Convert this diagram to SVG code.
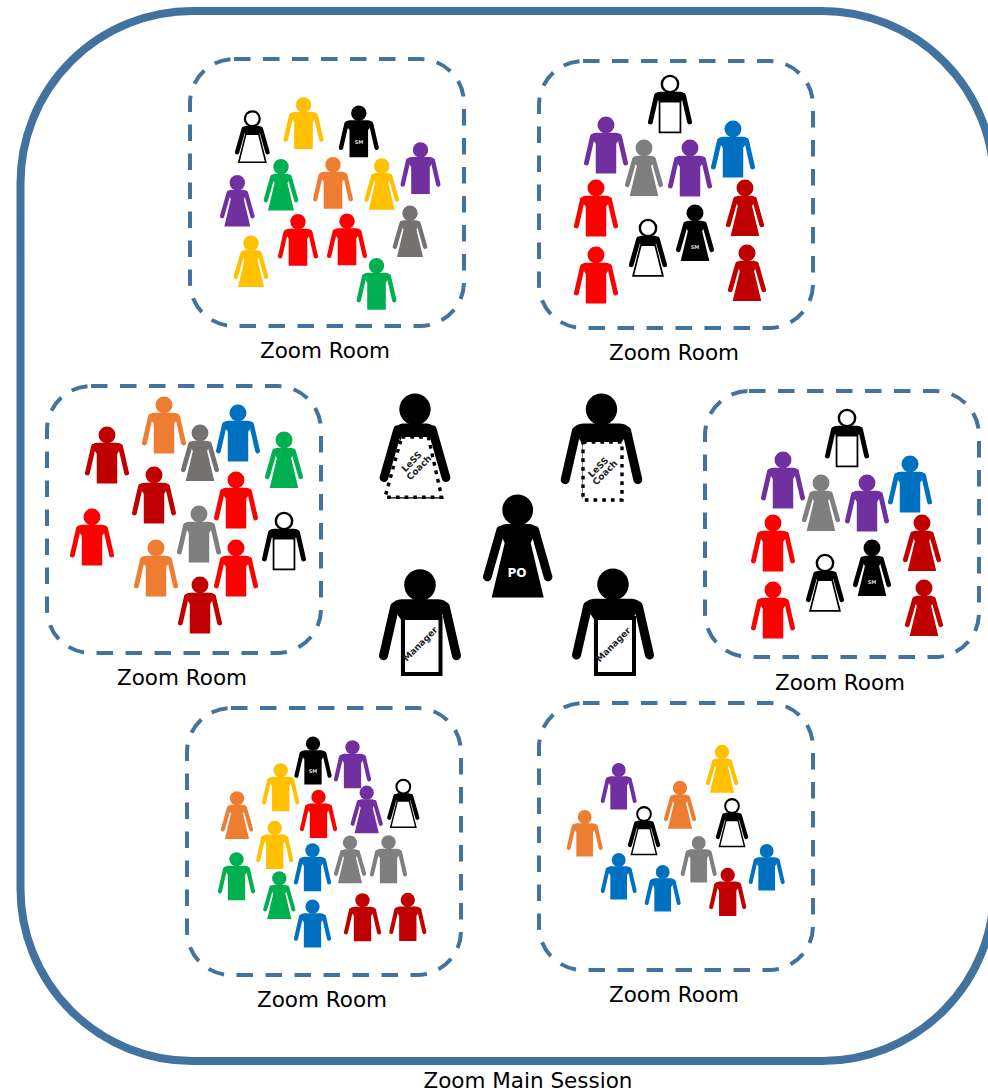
<svg xmlns="http://www.w3.org/2000/svg" width="988" height="1091" viewBox="0 0 988 1091">
<style>
text{font-family:"DejaVu Sans","Liberation Sans",sans-serif;fill:#000}
.lbl{font-size:21.5px;text-anchor:middle}
.room{fill:none;stroke:#43729f;stroke-width:4;stroke-dasharray:16.5 12.5}
.small{font-size:5px;font-weight:bold;fill:#ddd;text-anchor:middle}
.tag{font-size:9px;font-weight:bold;text-anchor:middle;fill:#222}
.dot{fill:#fff;stroke:#000;stroke-width:3.4;stroke-dasharray:3.7 5}
.box{fill:#fff;stroke:#000;stroke-width:4}
.r{color:#ff0000}.d{color:#c00000}.o{color:#ed7d31}.y{color:#ffc000}.g{color:#00b050}.b{color:#0070c0}.p{color:#7030a0}.a{color:#7f7f7f}.n{color:#767171}.k{color:#000}
</style>
<defs>
<g id="man"><circle r="7.7" fill="currentColor"/><path d="M-9,7H9Q12.500,7 14,10L9.300,17V44H-9.300V17L-14,10Q-12.500,7 -9,7Z" fill="currentColor"/><path d="M-12.300,10.500L-17.800,34.500M12.300,10.500L17.800,34.500" stroke="currentColor" stroke-width="4.400" stroke-linecap="round" fill="none"/></g>
<g id="woman"><circle r="7.7" fill="currentColor"/><path d="M-6,7H6Q8.500,7 9.500,10L6.500,16.500L13,43.700H-13L-6.500,16.500L-9.500,10Q-8.500,7 -6,7Z" fill="currentColor"/><path d="M-8.500,10L-15.200,33.500M8.500,10L15.200,33.500" stroke="currentColor" stroke-width="4.300" stroke-linecap="round" fill="none"/></g>
<g id="wman"><use href="#man" class="k"/><circle r="8.500" fill="#000"/><circle r="6.300" fill="#fff"/><rect x="-9.500" y="16" width="19" height="28" fill="#fff" stroke="#000" stroke-width="1.600"/></g>
<g id="wwoman"><use href="#woman" class="k"/><circle r="8.500" fill="#000"/><circle r="6.300" fill="#fff"/><path d="M-6.500,15.500H6.500L13.500,43.500H-13.500Z" fill="#fff" stroke="#000" stroke-width="1.600"/></g>
</defs>
<g id="connectors"/>
<g id="main-session"><rect x="20.5" y="11" width="973.5" height="1050" rx="172" ry="172" fill="none" stroke="#43729f" stroke-width="8"/><text class="lbl" x="528" y="1088">Zoom Main Session</text></g>
<g id="room-1"><rect class="room" x="190" y="59" width="274" height="267" rx="44"/><text class="lbl" x="325" y="358">Zoom Room</text>
<use href="#wwoman" transform="translate(252.3,118.7)"/><use href="#man" class="y" transform="translate(303.5,105)"/><use href="#man" class="k" transform="translate(358.8,113.3)"/><text class="small" x="359" y="144">SM</text><use href="#man" class="p" transform="translate(420.5,150)"/><use href="#woman" class="g" transform="translate(281,166.7)"/><use href="#man" class="o" transform="translate(333,164.7)"/><use href="#woman" class="y" transform="translate(381.7,166)"/><use href="#woman" class="p" transform="translate(237.3,182.7)"/><use href="#woman" class="n" transform="translate(410,213.3)"/><use href="#man" class="r" transform="translate(298,221.7)"/><use href="#man" class="r" transform="translate(347,221.3)"/><use href="#woman" class="y" transform="translate(251,243.3)"/><use href="#man" class="g" transform="translate(376.5,265.7)"/></g>
<g id="room-2"><rect class="room" x="539" y="61" width="274" height="267" rx="44"/><text class="lbl" x="674" y="360">Zoom Room</text>
<use href="#wman" transform="translate(670,84) scale(1.1)"/><use href="#man" class="p" transform="translate(606,125) scale(1.1)"/><use href="#woman" class="a" transform="translate(644,148) scale(1.1)"/><use href="#man" class="p" transform="translate(690,148) scale(1.1)"/><use href="#man" class="b" transform="translate(733,129) scale(1.1)"/><use href="#man" class="r" transform="translate(596,188) scale(1.1)"/><use href="#woman" class="d" transform="translate(745,188) scale(1.1)"/><use href="#wwoman" transform="translate(648,228) scale(1.1)"/><use href="#woman" class="k" transform="translate(695,213) scale(1.1)"/><text class="small" x="695" y="249">SM</text><use href="#man" class="r" transform="translate(596,255) scale(1.1)"/><use href="#woman" class="d" transform="translate(747,253) scale(1.1)"/></g>
<g id="room-3"><rect class="room" x="47" y="386" width="274" height="267" rx="44"/><text class="lbl" x="182" y="685">Zoom Room</text>
<use href="#man" class="d" transform="translate(107,435) scale(1.1)"/><use href="#man" class="o" transform="translate(164,405) scale(1.1)"/><use href="#woman" class="n" transform="translate(200,433) scale(1.1)"/><use href="#man" class="b" transform="translate(238,413) scale(1.1)"/><use href="#woman" class="g" transform="translate(284,440) scale(1.1)"/><use href="#man" class="d" transform="translate(154,475) scale(1.1)"/><use href="#man" class="r" transform="translate(236,480) scale(1.1)"/><use href="#man" class="r" transform="translate(92,517) scale(1.1)"/><use href="#man" class="a" transform="translate(199,514) scale(1.1)"/><use href="#wman" transform="translate(284,521) scale(1.1)"/><use href="#man" class="o" transform="translate(156,548) scale(1.1)"/><use href="#man" class="r" transform="translate(236,548) scale(1.1)"/><use href="#man" class="d" transform="translate(200,585) scale(1.1)"/></g>
<g id="room-4"><rect class="room" x="705" y="391" width="274" height="266" rx="44"/><text class="lbl" x="840" y="690">Zoom Room</text>
<use href="#wman" transform="translate(847,418) scale(1.1)"/><use href="#man" class="p" transform="translate(783,460) scale(1.1)"/><use href="#woman" class="a" transform="translate(821,483) scale(1.1)"/><use href="#man" class="p" transform="translate(867,483) scale(1.1)"/><use href="#man" class="b" transform="translate(910,464) scale(1.1)"/><use href="#man" class="r" transform="translate(773,523) scale(1.1)"/><use href="#woman" class="d" transform="translate(922,523) scale(1.1)"/><use href="#wwoman" transform="translate(825,563) scale(1.1)"/><use href="#woman" class="k" transform="translate(872,548) scale(1.1)"/><text class="small" x="872" y="584">SM</text><use href="#man" class="r" transform="translate(773,590) scale(1.1)"/><use href="#woman" class="d" transform="translate(924,588) scale(1.1)"/></g>
<g id="room-5"><rect class="room" x="187" y="708" width="274" height="267" rx="44"/><text class="lbl" x="322" y="1007">Zoom Room</text>
<use href="#man" class="k" transform="translate(313,743.7) scale(.93)"/><text class="small" x="313" y="773">SM</text><use href="#man" class="p" transform="translate(352.5,747.3) scale(.93)"/><use href="#man" class="y" transform="translate(280.7,770.3) scale(.93)"/><use href="#man" class="r" transform="translate(318.5,797) scale(.93)"/><use href="#woman" class="p" transform="translate(366.7,792.7) scale(.93)"/><use href="#wwoman" transform="translate(403.3,786.7) scale(.93)"/><use href="#woman" class="o" transform="translate(237,798.3) scale(.93)"/><use href="#man" class="y" transform="translate(274.7,828) scale(.93)"/><use href="#man" class="b" transform="translate(312.5,850.3) scale(.93)"/><use href="#woman" class="a" transform="translate(350,842.7) scale(.93)"/><use href="#man" class="a" transform="translate(388.5,842.3) scale(.93)"/><use href="#man" class="g" transform="translate(236.5,859.3) scale(.93)"/><use href="#woman" class="g" transform="translate(279.3,878.3) scale(.93)"/><use href="#man" class="b" transform="translate(312.5,906.7) scale(.93)"/><use href="#man" class="d" transform="translate(362.5,900.3) scale(.93)"/><use href="#man" class="d" transform="translate(407.8,900) scale(.93)"/></g>
<g id="room-6"><rect class="room" x="539" y="703" width="274" height="267" rx="44"/><text class="lbl" x="674" y="1002">Zoom Room</text>
<use href="#man" class="p" transform="translate(618.7,770) scale(.9)"/><use href="#woman" class="y" transform="translate(722,752) scale(.93)"/><use href="#woman" class="o" transform="translate(680,788) scale(.93)"/><use href="#man" class="o" transform="translate(584.7,817) scale(.9)"/><use href="#wwoman" transform="translate(644,814) scale(.93)"/><use href="#wwoman" transform="translate(732,806) scale(.93)"/><use href="#man" class="a" transform="translate(698.7,843) scale(.9)"/><use href="#man" class="b" transform="translate(618.7,860) scale(.9)"/><use href="#man" class="b" transform="translate(662.7,872) scale(.9)"/><use href="#man" class="b" transform="translate(766.7,851) scale(.9)"/><use href="#man" class="d" transform="translate(727.7,875) scale(.93)"/></g>
<g id="coach-1"><use href="#woman" class="k" transform="translate(415,409.3) scale(2.04)"/><path class="dot" d="M401.700,437H428.300L441.700,497.300H385Z"/><text class="tag" transform="translate(411.700,461.700) rotate(-45)" y="3">LeSS</text><text class="tag" transform="translate(419,467.700) rotate(-45)" y="3">Coach</text></g>
<g id="coach-2"><use href="#man" class="k" transform="translate(601.5,409.3) scale(2.04)"/><rect class="dot" x="583" y="442" width="39" height="58"/><text class="tag" transform="translate(598.300,467.300) rotate(-45)" y="3">LeSS</text><text class="tag" transform="translate(605,472.700) rotate(-45)" y="3">Coach</text></g>
<g id="po"><use href="#woman" class="k" transform="translate(517.7,510) scale(2)"/><text x="517" y="576.500" font-size="12" font-weight="bold" text-anchor="middle" style="fill:#fff">PO</text></g>
<g id="manager-1"><use href="#man" class="k" transform="translate(420,585) scale(2.05)"/><rect class="box" x="403" y="618" width="37.500" height="56"/><text class="tag" transform="translate(420.300,644) rotate(-45)" y="3">Manager</text></g>
<g id="manager-2"><use href="#man" class="k" transform="translate(613,584.300) scale(2.05)"/><rect class="box" x="596" y="618" width="38" height="56"/><text class="tag" transform="translate(613.300,644.700) rotate(-45)" y="3">Manager</text></g>
</svg>
